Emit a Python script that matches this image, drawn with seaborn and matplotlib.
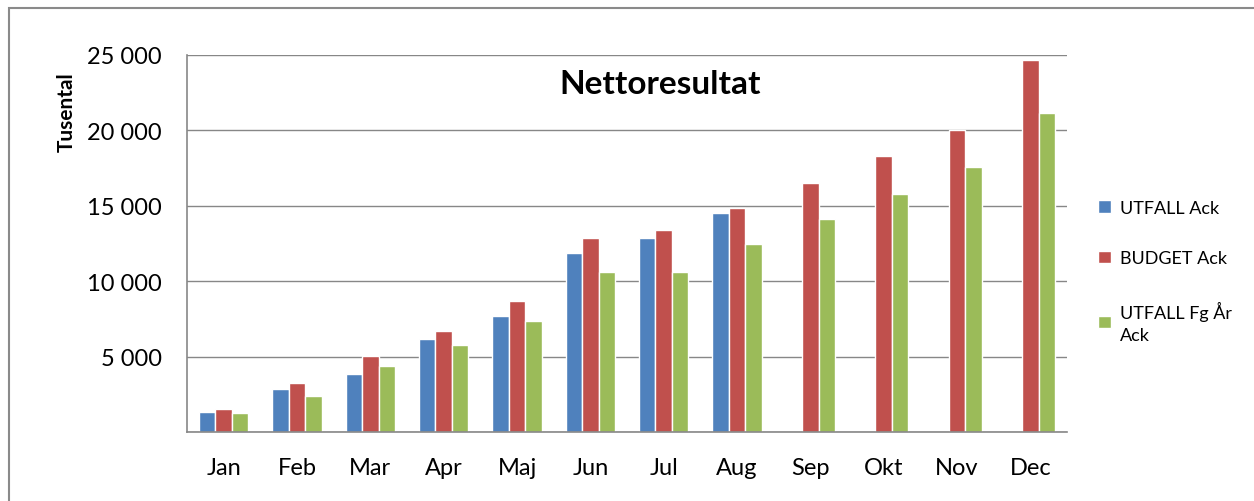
import pandas as pd
import seaborn as sns
import matplotlib.pyplot as plt
from matplotlib.patches import Rectangle
from matplotlib.ticker import FuncFormatter

manader = ['Jan', 'Feb', 'Mar', 'Apr', 'Maj', 'Jun', 'Jul', 'Aug', 'Sep', 'Okt', 'Nov', 'Dec']
serier = ['UTFALL Ack', 'BUDGET Ack', 'UTFALL Fg År Ack']
legend_etiketter = ['UTFALL Ack', 'BUDGET Ack', 'UTFALL Fg År\nAck']
utfall_ack = [1350, 2850, 3850, 6170, 7670, 11870, 12890, 14540, None, None, None, None]
budget_ack = [1550, 3250, 5020, 6720, 8690, 12840, 13420, 14830, 16490, 18280, 20050, 24650]
utfall_fg_ar_ack = [1260, 2370, 4380, 5770, 7360, 10630, 10610, 12450, 14150, 15800, 17570, 21170]
farger = ['#4F81BD', '#C0504D', '#9BBB59']

rows = []
for serie, vals in zip(serier, [utfall_ack, budget_ack, utfall_fg_ar_ack]):
    for m, v in zip(manader, vals):
        rows.append({'Månad': m, 'Serie': serie, 'Värde': v})
df = pd.DataFrame(rows)

sns.set_style('white')
plt.rcParams['font.family'] = ['Lato', 'DejaVu Sans']
plt.rcParams.update({'text.color': 'black', 'xtick.labelcolor': 'black', 'ytick.labelcolor': 'black'})

fig = plt.figure(figsize=(12.54, 5.02), dpi=100)
ax = fig.add_axes([187/1254, 1-433/502, 880/1254, 377/502])

sns.barplot(data=df, x='Månad', y='Värde', hue='Serie', order=manader, hue_order=serier,
            palette=farger, saturation=1, width=0.67, errorbar=None, ax=ax)

grid_col = '#878787'
ax.set_ylim(0, 25000)
ax.set_xlim(-0.5, 11.5)
ax.set_yticks(range(0, 25001, 5000))
ax.yaxis.set_major_formatter(FuncFormatter(lambda v, p: '' if v == 0 else f'{int(v):,}'.replace(',', ' ')))
ax.yaxis.grid(True, color=grid_col, linewidth=1.0)
ax.set_axisbelow(True)
for s in ['top', 'right']:
    ax.spines[s].set_visible(False)
for s in ['left', 'bottom']:
    ax.spines[s].set_color(grid_col)
    ax.spines[s].set_linewidth(1.2)

ax.set_xticks([i - 0.5 for i in range(13)], minor=True)
ax.tick_params(axis='x', which='major', length=0, labelsize=17, pad=18, labelcolor='black')
ax.tick_params(axis='x', which='minor', length=6, width=1.2, color=grid_col, direction='out')
ax.tick_params(axis='y', length=6, width=1.2, color=grid_col, direction='out', labelsize=17, pad=12,
               labelcolor='black')
ax.set_xlabel('')
ax.set_ylabel('')

fig.text(67/1254, 1-112/502, 'Tusental', rotation=90, fontsize=15, fontweight='bold',
         ha='center', va='center', color='black')
fig.text(660/1254, 1-85/502, 'Nettoresultat', fontsize=24, fontweight='bold',
         ha='center', va='center', color='black')

handles, labels = ax.get_legend_handles_labels()
ax.legend_.remove()
leg = fig.legend(handles, legend_etiketter, loc='upper left', bbox_to_anchor=(1098/1254, 1-201/502),
                 frameon=False, fontsize=13, handlelength=0.7, handleheight=0.7, handletextpad=0.5,
                 labelspacing=1.9, borderaxespad=0, borderpad=0)
for t in leg.get_texts():
    t.set_linespacing(1.5)
    t.set_color('black')

fig.patches.append(Rectangle((9/1254, -0.1), 1.2, 1-9/502+0.1, transform=fig.transFigure,
                             fill=False, edgecolor='#8a8a8a', linewidth=1.5))

fig.savefig('out.png', dpi=100)
